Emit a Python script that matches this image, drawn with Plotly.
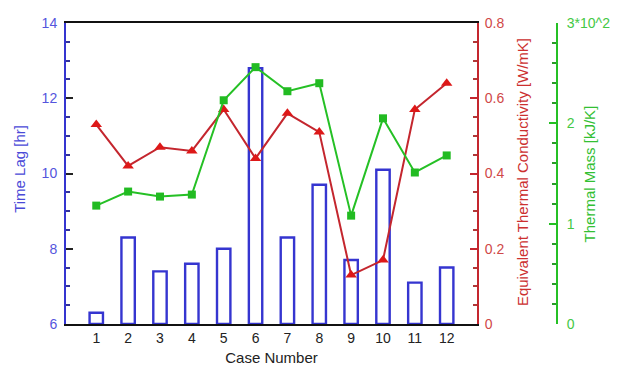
import plotly.graph_objects as go

# Case data
cases = [1, 2, 3, 4, 5, 6, 7, 8, 9, 10, 11, 12]
time_lag = [6.3, 8.3, 7.4, 7.6, 8.0, 12.8, 8.3, 9.7, 7.7, 10.1, 7.1, 7.5]          # hr
conductivity = [0.53, 0.42, 0.47, 0.46, 0.57, 0.44, 0.56, 0.51, 0.13, 0.17, 0.57, 0.64]  # W/mK
thermal_mass = [1.18, 1.32, 1.27, 1.29, 2.23, 2.56, 2.32, 2.40, 1.08, 2.05, 1.51, 1.68]  # x10^2 kJ/K

lag_base = 6
mass_ticks = [0, 1, 2, 3]
mass_ticktext = ["0", "1", "2", "3*10^2"]

BLUE = "#3535d0"
RED = "#c4262e"
GREEN = "#25c025"
FONT = "Liberation Sans, Arial, sans-serif"

fig = go.Figure()

fig.add_trace(go.Bar(
    x=cases, y=[v - lag_base for v in time_lag], base=lag_base,
    width=0.42, marker=dict(color="white", line=dict(color=BLUE, width=2.4)),
    name="Time Lag", yaxis="y",
))

fig.add_trace(go.Scatter(
    x=cases, y=conductivity, mode="lines+markers", yaxis="y2",
    line=dict(color=RED, width=2),
    marker=dict(symbol="triangle-up", size=10, color="#dd1818"),
    name="Conductivity",
))

fig.add_trace(go.Scatter(
    x=cases, y=thermal_mass, mode="lines+markers", yaxis="y3",
    line=dict(color=GREEN, width=2),
    marker=dict(symbol="square", size=8, color="#22bb22"),
    name="Thermal Mass",
))

x_end = 0.837

fig.update_layout(
    width=623, height=366,
    margin=dict(l=66, r=66, t=23, b=42, autoexpand=False),
    paper_bgcolor="white", plot_bgcolor="white",
    showlegend=False,
    font=dict(family=FONT, size=14, color="#222"),
    xaxis=dict(
        domain=[0, x_end], range=[0.05, 12.95], automargin=False,
        tickmode="array", tickvals=cases, ticks="",
        showgrid=False, zeroline=False,
        showline=True, linecolor="#111", linewidth=2, mirror=True,
        tickfont=dict(size=14, color="#222"), ticklabelstandoff=0,
        title=dict(text="Case Number", font=dict(size=15, color="#222"), standoff=8),
    ),
    yaxis=dict(
        range=[6, 14], tickmode="linear", tick0=6, dtick=2,
        ticks="inside", ticklen=7, tickwidth=2,
        tickcolor="#222", showgrid=False, zeroline=False, automargin=False,
        showline=True, linecolor=BLUE, linewidth=2,
        tickfont=dict(size=14, color="#5555dd"), ticklabelstandoff=4,
        minor=dict(dtick=0.5, ticks="inside", ticklen=4, tickwidth=1.5,
                   tickcolor="#333399", showgrid=False),
    ),
    yaxis2=dict(
        overlaying="y", side="right", anchor="x", automargin=False,
        range=[0, 0.8], tickmode="linear", tick0=0, dtick=0.2, tickformat=".1~f",
        ticks="inside", ticklen=7, tickwidth=2, tickcolor=RED,
        showgrid=False, zeroline=False,
        showline=True, linecolor=RED, linewidth=2,
        tickfont=dict(size=14, color="#d04848"), ticklabelstandoff=3,
        minor=dict(dtick=0.05, ticks="inside", ticklen=4, tickwidth=1.5,
                   tickcolor="#b03838", showgrid=False),
    ),
    yaxis3=dict(
        overlaying="y", side="right", anchor="free", position=1, automargin=False,
        range=[0, 3], tickmode="array", tickvals=mass_ticks, ticktext=mass_ticktext,
        ticks="inside", ticklen=7, tickwidth=2, tickcolor=GREEN,
        showgrid=False, zeroline=False,
        showline=True, linecolor=GREEN, linewidth=2,
        tickfont=dict(size=14, color="#44c844"), ticklabelstandoff=6,
        minor=dict(dtick=0.2, ticks="inside", ticklen=4, tickwidth=1.5,
                   tickcolor="#2a9a2a", showgrid=False),
    ),
    annotations=[
        dict(text="Time Lag [hr]", textangle=-90, xref="paper", yref="paper",
             x=-0.094, y=0.515, xanchor="center", yanchor="middle", showarrow=False,
             font=dict(size=15, color="#4a4ad8")),
        dict(text="Equivalent Thermal Conductivity [W/mK]", textangle=-90,
             xref="paper", yref="paper", x=0.931, y=0.505,
             xanchor="center", yanchor="middle", showarrow=False,
             font=dict(size=15, color="#cc3030")),
        dict(text="Thermal Mass [kJ/K]", textangle=-90, xref="paper", yref="paper",
             x=1.067, y=0.5, xanchor="center", yanchor="middle", showarrow=False,
             font=dict(size=15, color="#33c033")),
    ],
)

fig.write_html("out.html")
